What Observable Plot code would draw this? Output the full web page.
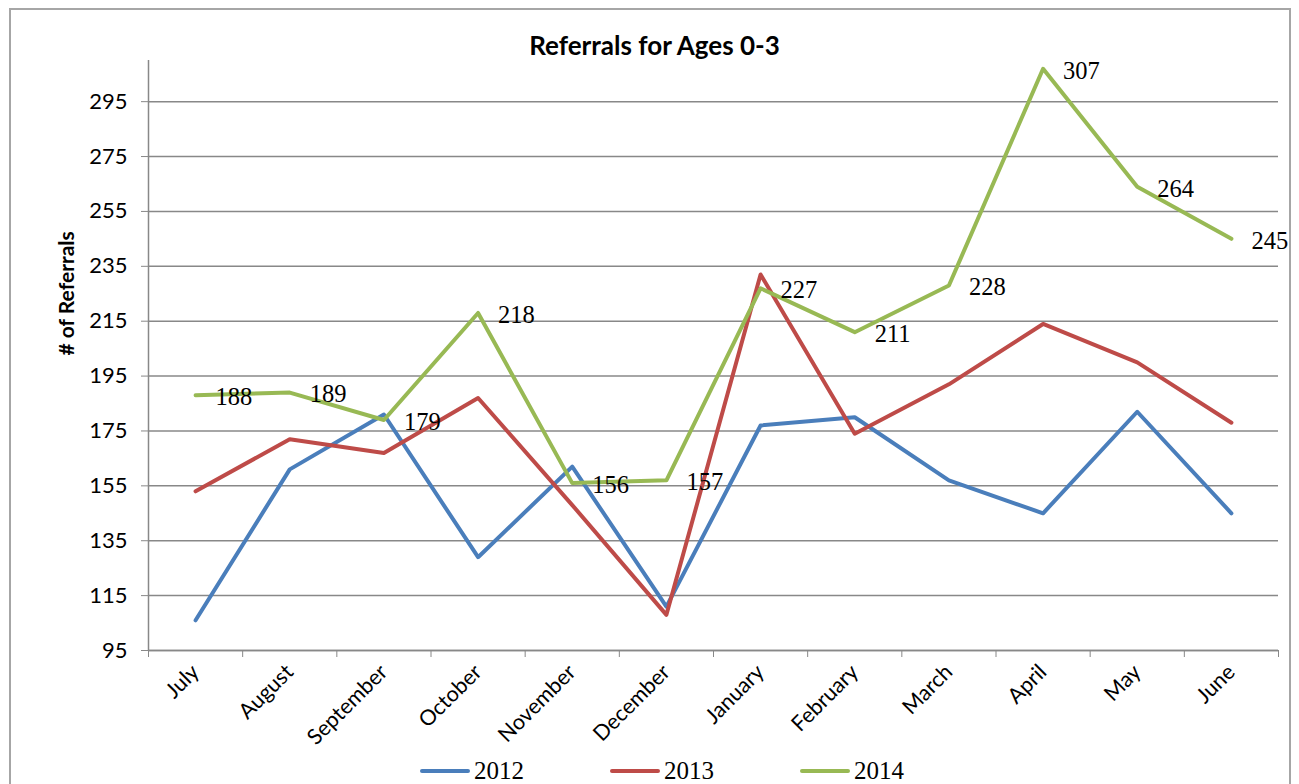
<!DOCTYPE html>
<html>
<head>
<meta charset="utf-8">
<script src="https://cdn.jsdelivr.net/npm/d3@7"></script>
<script src="https://cdn.jsdelivr.net/npm/@observablehq/plot@0.6"></script>
<style>
  html, body { margin: 0; padding: 0; background: #fff; overflow: hidden; }
  #frame { position: absolute; left: 9px; top: 8px; width: 1282px; height: 900px; border: 2px solid #a6a6a6; box-sizing: border-box; }
  #wrap { position: absolute; left: 0; top: 0; width: 1299px; }
  #title { height: 40px; box-sizing: border-box; padding-top: 29px; padding-left: 10px; text-align: center;
           font-family: Lato, "Open Sans", sans-serif; font-weight: bold; font-size: 26px; line-height: 32px; color: #000; white-space: nowrap; }
  #chart svg { display: block; }
  #legend { height: 32px; display: flex; align-items: center; padding-left: 420px; gap: 86px;
            font-family: "Liberation Serif", serif; font-size: 25px; color: #000; }
  .item { display: flex; align-items: center; gap: 4px; }
  .sw { width: 50px; height: 4px; border-radius: 2px; }
</style>
</head>
<body>
<div id="frame"></div>
<div id="wrap">
  <div id="title"></div>
  <div id="chart"></div>
  <div id="legend"></div>
</div>
<script>
const titleText = "Referrals for Ages 0-3";
const yLabel = "# of Referrals";
const months = ["July","August","September","October","November","December","January","February","March","April","May","June"];
const years = ["2012","2013","2014"];
const colors = ["#4a7ebb","#be4b48","#98b954"];
const v2012 = [106,161,181,129,162,111,177,180,157,145,182,145];
const v2013 = [153,172,167,187,148,108,232,174,192,214,200,178];
const v2014 = [188,189,179,218,156,157,227,211,228,307,264,245];
const yTicks = [95,115,135,155,175,195,215,235,255,275,295];
const labelledYear = "2014";

const series = {"2012": v2012, "2013": v2013, "2014": v2014};
const rows = [];
for (const yr of years) series[yr].forEach((v, i) => rows.push({i, month: months[i], year: yr, value: v}));
const labelRows = rows.filter(d => d.year === labelledYear);
const bounds = d3.range(months.length + 1).map(i => i - 0.5);

document.getElementById("title").textContent = titleText;

const plot = Plot.plot({
  width: 1299,
  height: 715,
  marginTop: 20,
  marginBottom: 105,
  marginLeft: 148,
  marginRight: 21,
  style: {fontFamily: "Lato, 'Open Sans', sans-serif", color: "#000", background: "transparent", overflow: "visible"},
  x: {type: "linear", domain: [-0.5, months.length - 0.5]},
  y: {domain: [95, 310]},
  color: {domain: years, range: colors},
  marks: [
    Plot.gridY({ticks: yTicks, stroke: "#888", strokeOpacity: 1, strokeWidth: 1.5}),
    Plot.ruleX([-0.5], {stroke: "#888", strokeWidth: 1.5}),
    Plot.ruleY([95], {stroke: "#888", strokeWidth: 1.5}),
    Plot.axisY({ticks: yTicks, tickSize: 7, tickPadding: 14, fontSize: 22, label: null, stroke: "#888"}),
    Plot.axisX({ticks: bounds, tickSize: 7, tickFormat: () => "", label: null, stroke: "#888"}),
    Plot.axisX({ticks: d3.range(months.length), tickFormat: i => months[i], tickRotate: -45, tickSize: 0, tickPadding: 18, fontSize: 21.5, label: null}),
    Plot.line(rows, {x: "i", y: "value", z: "year", stroke: "year", strokeWidth: 4, strokeLinejoin: "round"}),
    Plot.text(labelRows, {x: "i", y: "value", text: d => String(d.value), dx: 20, dy: 2, textAnchor: "start",
      fontFamily: "'Liberation Serif', serif", fontSize: 24.5, fill: "#000"}),
    Plot.text([yLabel], {frameAnchor: "left", text: d => d, rotate: -90, dx: -81, fontSize: 21, fontWeight: "bold", fill: "#000"})
  ]
});
document.getElementById("chart").appendChild(plot);

const legend = document.getElementById("legend");
years.forEach((yr, k) => {
  const item = document.createElement("div");
  item.className = "item";
  const sw = document.createElement("div");
  sw.className = "sw";
  sw.style.background = colors[k];
  const t = document.createElement("span");
  t.textContent = yr;
  item.appendChild(sw);
  item.appendChild(t);
  legend.appendChild(item);
});
</script>
</body>
</html>
